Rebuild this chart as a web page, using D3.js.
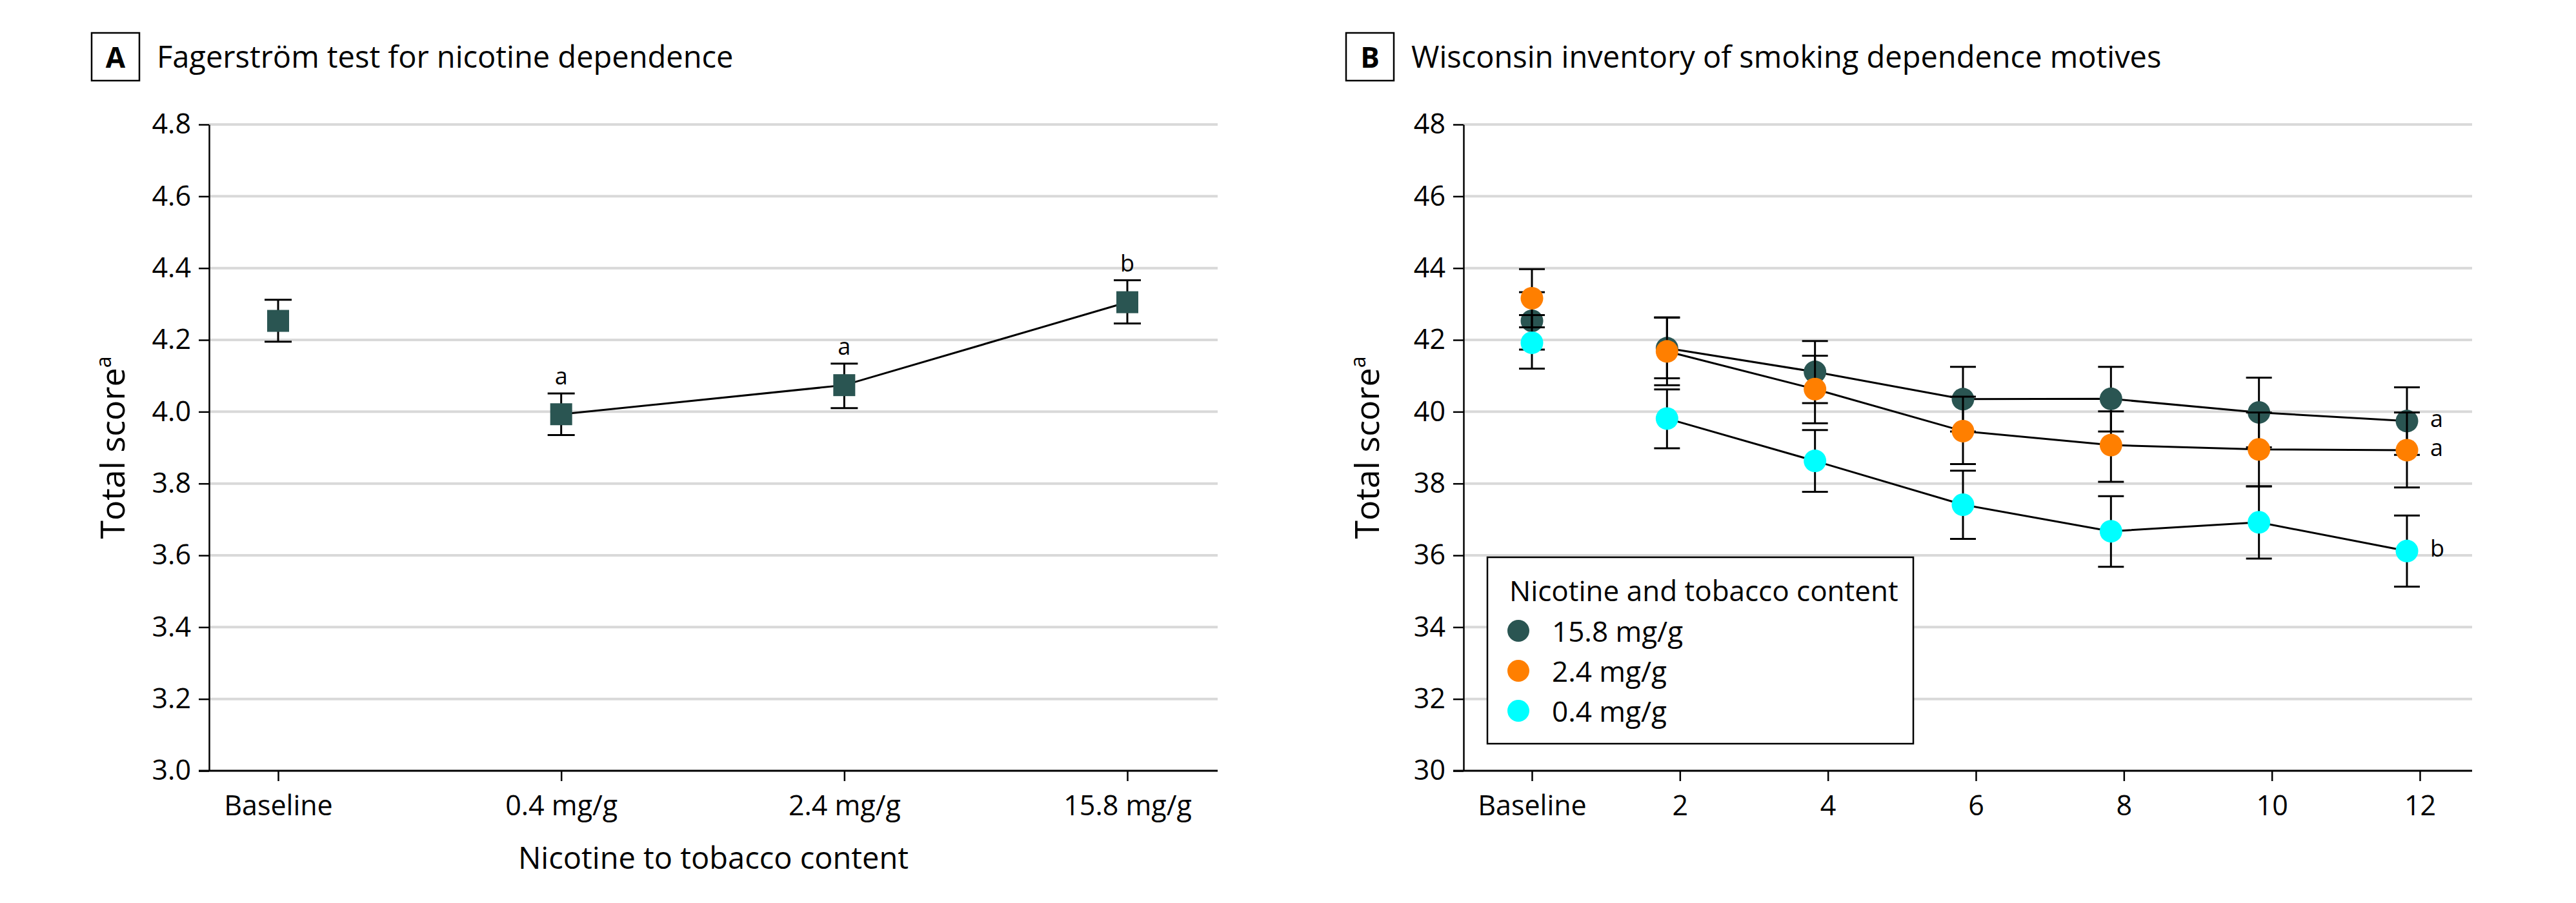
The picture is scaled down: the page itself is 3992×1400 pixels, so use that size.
<!DOCTYPE html>
<html lang="en">
<head>
<meta charset="UTF-8">
<title>Nicotine dependence scores</title>
<script src="https://d3js.org/d3.v7.min.js"></script>
<style>
  body { margin: 0; background: #fff; }
  svg text { font-family: 'Open Sans', 'Noto Sans', sans-serif; fill: #000; }
  .grid line { stroke: #d9d9d9; stroke-width: 4px; }
  .axis path, .axis line { stroke: #000; stroke-width: 2.5px; }
  .axis text { font-size: 43px; }
  .errbar { stroke: #000; stroke-width: 3px; fill: none; }
  .trend { stroke: #000; stroke-width: 3px; fill: none; }
</style>
</head>
<body>
<script>
// Panel A: Fagerstrom test
const doseLabels = ['Baseline', '0.4 mg/g', '2.4 mg/g', '15.8 mg/g'];
const ftndMean = [4.253, 3.993, 4.074, 4.305];
const ftndLow = [4.195, 3.935, 4.010, 4.246];
const ftndHigh = [4.312, 4.051, 4.134, 4.366];
const ftndLetters = ['', 'a', 'a', 'b'];
const ftndTicks = [3.0, 3.2, 3.4, 3.6, 3.8, 4.0, 4.2, 4.4, 4.6, 4.8];

// Panel B: WISDM by week
const weeks = [0, 2, 4, 6, 8, 10, 12];
const weekLabels = ['Baseline', '2', '4', '6', '8', '10', '12'];
const groupNames = ['15.8 mg/g', '2.4 mg/g', '0.4 mg/g'];
const groupColors = ['#2a5552', '#ff7f00', '#00ffff'];
const wisdm158 = [42.53, 41.77, 41.11, 40.35, 40.36, 39.98, 39.74];
const wisdm158Lo = [41.73, 40.93, 40.24, 39.45, 39.45, 39.01, 38.80];
const wisdm158Hi = [43.33, 42.63, 41.97, 41.25, 41.25, 40.95, 40.68];
const wisdm24 = [43.16, 41.68, 40.63, 39.46, 39.07, 38.95, 38.93];
const wisdm24Lo = [42.35, 40.74, 39.68, 38.54, 38.05, 37.92, 37.89];
const wisdm24Hi = [43.97, 42.62, 41.56, 40.42, 40.01, 39.98, 39.98];
const wisdm04 = [41.92, 39.81, 38.63, 37.41, 36.67, 36.92, 36.12];
const wisdm04Lo = [41.20, 38.98, 37.77, 36.46, 35.68, 35.91, 35.13];
const wisdm04Hi = [42.69, 40.62, 39.49, 38.36, 37.65, 37.92, 37.11];
const wisdmLetters = ['a', 'a', 'b'];
const wisdmTicks = [30, 32, 34, 36, 38, 40, 42, 44, 46, 48];

const width = 3992, height = 1400;
const plotTop = 193, plotBottom = 1195;

const svg = d3.select('body').append('svg')
    .attr('width', width)
    .attr('height', height);
svg.append('rect').attr('width', width).attr('height', height).attr('fill', '#fff');

function panelTitle(x, letter, text) {
    svg.append('rect')
        .attr('x', x).attr('y', 51).attr('width', 74).attr('height', 74)
        .attr('fill', 'none').attr('stroke', '#000').attr('stroke-width', 2.5);
    svg.append('text')
        .attr('x', x + 37).attr('y', 105)
        .attr('text-anchor', 'middle')
        .style('font-size', '44px').style('font-weight', 'bold')
        .text(letter);
    svg.append('text')
        .attr('x', x + 101).attr('y', 105)
        .style('font-size', '47px')
        .text(text);
}

function drawFrame(p) {
    const g = svg.append('g');
    g.append('g').attr('class', 'grid')
        .selectAll('line')
        .data(p.yTicks.slice(1))
        .join('line')
        .attr('x1', p.left).attr('x2', p.right)
        .attr('y1', d => p.y(d)).attr('y2', d => p.y(d));

    g.append('g').attr('class', 'axis')
        .attr('transform', `translate(${p.left},0)`)
        .call(d3.axisLeft(p.y).tickValues(p.yTicks).tickFormat(p.yFmt)
            .tickSize(16).tickSizeOuter(0).tickPadding(12));

    const xa = g.append('g').attr('class', 'axis')
        .attr('transform', `translate(0,${plotBottom})`)
        .call(d3.axisBottom(p.x).tickValues(p.xTicks).tickFormat(p.xFmt)
            .tickSize(16).tickSizeOuter(0).tickPadding(22));
    xa.select('.domain').remove();

    g.append('line')
        .attr('x1', p.left - 16).attr('x2', p.right)
        .attr('y1', plotBottom).attr('y2', plotBottom)
        .attr('stroke', '#000').attr('stroke-width', 3);

    const yt = g.append('text')
        .attr('transform', `translate(${p.left - 131},${(plotTop + plotBottom) / 2}) rotate(-90)`)
        .attr('text-anchor', 'middle')
        .style('font-size', '52px');
    yt.append('tspan').text('Total score');
    yt.append('tspan').attr('baseline-shift', 'super').style('font-size', '32px').text('a');
    return g;
}

// ---------- Panel A ----------
panelTitle(142, 'A', 'Fagerstr\u00f6m test for nicotine dependence');

const xA = d3.scaleLinear().domain([0, 3]).range([431, 1747]);
const yA = d3.scaleLinear().domain([3.0, 4.8]).range([plotBottom, plotTop]);

const gA = drawFrame({
    left: 324, right: 1887, x: xA, y: yA,
    yTicks: ftndTicks, yFmt: d3.format('.1f'),
    xTicks: [0, 1, 2, 3], xFmt: i => doseLabels[i]
});

gA.append('text')
    .attr('x', (324 + 1887) / 2).attr('y', 1347)
    .attr('text-anchor', 'middle')
    .style('font-size', '47px')
    .text('Nicotine to tobacco content');

const ftnd = doseLabels.map((d, i) => ({ i, mean: ftndMean[i], lo: ftndLow[i], hi: ftndHigh[i], letter: ftndLetters[i] }));

gA.append('path')
    .attr('class', 'trend')
    .attr('d', d3.line().x(d => xA(d.i)).y(d => yA(d.mean))(ftnd.slice(1)));

const ptA = gA.append('g').selectAll('g').data(ftnd).join('g');
ptA.append('line').attr('class', 'errbar')
    .attr('x1', d => xA(d.i)).attr('x2', d => xA(d.i))
    .attr('y1', d => yA(d.lo)).attr('y2', d => yA(d.hi));
ptA.append('line').attr('class', 'errbar')
    .attr('x1', d => xA(d.i) - 21).attr('x2', d => xA(d.i) + 21)
    .attr('y1', d => yA(d.lo)).attr('y2', d => yA(d.lo));
ptA.append('line').attr('class', 'errbar')
    .attr('x1', d => xA(d.i) - 21).attr('x2', d => xA(d.i) + 21)
    .attr('y1', d => yA(d.hi)).attr('y2', d => yA(d.hi));
ptA.append('rect')
    .attr('x', d => xA(d.i) - 17).attr('y', d => yA(d.mean) - 17)
    .attr('width', 34).attr('height', 34)
    .attr('fill', groupColors[0]);
ptA.append('text')
    .attr('x', d => xA(d.i)).attr('y', d => yA(d.hi) - 14)
    .attr('text-anchor', 'middle')
    .style('font-size', '36px')
    .text(d => d.letter);

// ---------- Panel B ----------
panelTitle(2086, 'B', 'Wisconsin inventory of smoking dependence motives');

const xB = d3.scaleLinear().domain([0, 12]).range([2374, 3750]);
const yB = d3.scaleLinear().domain([30, 48]).range([plotBottom, plotTop]);
const followShift = -20;
const px = w => xB(w) + (w > 0 ? followShift : 0);

const gB = drawFrame({
    left: 2268, right: 3831, x: xB, y: yB,
    yTicks: wisdmTicks, yFmt: d3.format('d'),
    xTicks: weeks, xFmt: (d, i) => weekLabels[i]
});

const means = [wisdm158, wisdm24, wisdm04];
const lows = [wisdm158Lo, wisdm24Lo, wisdm04Lo];
const highs = [wisdm158Hi, wisdm24Hi, wisdm04Hi];
const groups = groupNames.map((name, gi) => ({
    name, color: groupColors[gi], letter: wisdmLetters[gi],
    pts: weeks.map((w, i) => ({ w, mean: means[gi][i], lo: lows[gi][i], hi: highs[gi][i] }))
}));

const lineB = d3.line().x(d => px(d.w)).y(d => yB(d.mean));
gB.append('g').selectAll('path').data(groups).join('path')
    .attr('class', 'trend')
    .attr('d', g => lineB(g.pts.slice(1)));

groups.forEach(grp => {
    const sel = gB.append('g').selectAll('g').data(grp.pts).join('g');
    sel.append('line').attr('class', 'errbar')
        .attr('x1', d => px(d.w)).attr('x2', d => px(d.w))
        .attr('y1', d => yB(d.lo)).attr('y2', d => yB(d.hi));
    sel.append('line').attr('class', 'errbar')
        .attr('x1', d => px(d.w) - 20).attr('x2', d => px(d.w) + 20)
        .attr('y1', d => yB(d.lo)).attr('y2', d => yB(d.lo));
    sel.append('line').attr('class', 'errbar')
        .attr('x1', d => px(d.w) - 20).attr('x2', d => px(d.w) + 20)
        .attr('y1', d => yB(d.hi)).attr('y2', d => yB(d.hi));
    sel.append('circle')
        .attr('cx', d => px(d.w)).attr('cy', d => yB(d.mean))
        .attr('r', 17.5)
        .attr('fill', grp.color);
    const last = grp.pts[grp.pts.length - 1];
    gB.append('text')
        .attr('x', px(last.w) + 36).attr('y', yB(last.mean) + 9)
        .style('font-size', '36px')
        .text(grp.letter);
});

// legend
const leg = gB.append('g');
leg.append('rect')
    .attr('x', 2305).attr('y', 864).attr('width', 660).attr('height', 289)
    .attr('fill', '#fff').attr('stroke', '#000').attr('stroke-width', 2.5);
leg.append('text')
    .attr('x', 2339).attr('y', 932)
    .style('font-size', '44px')
    .text('Nicotine and tobacco content');
const item = leg.selectAll('g.item').data(groups).join('g').attr('class', 'item')
    .attr('transform', (d, i) => `translate(2353,${978 + i * 62})`);
item.append('circle').attr('r', 17).attr('fill', d => d.color);
item.append('text').attr('x', 52).attr('y', 17).style('font-size', '44px').text(d => d.name);
</script>
</body>
</html>
